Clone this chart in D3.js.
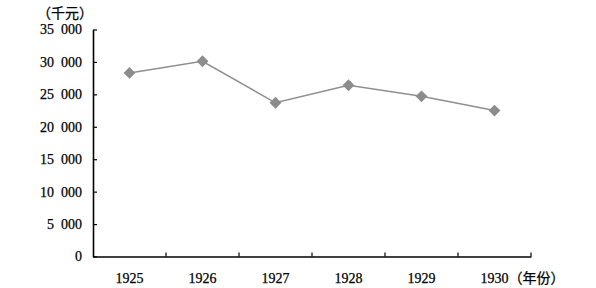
<!DOCTYPE html>
<html>
<head>
<meta charset="utf-8">
<script src="https://cdn.jsdelivr.net/npm/d3@7"></script>
<style>
  body { margin: 0; background: #fff; }
  svg { display: block; }
  text { font-family: "Liberation Serif", "Times New Roman", "Noto Sans CJK SC", serif; fill: #000; stroke: #000; stroke-width: 0.25px; }
</style>
</head>
<body>
<svg id="chart"></svg>
<script>
// data
var years = ["1925", "1926", "1927", "1928", "1929", "1930"];
var values = [28300, 30100, 23700, 26400, 24700, 22500];
var yTicks = [0, 5000, 10000, 15000, 20000, 25000, 30000, 35000];
var yUnit = "（千元）";
var xUnit = "（年份）";

var width = 596, height = 288;
var margin = {top: 29.5, right: 65, bottom: 31.5, left: 93};

var svg = d3.select("#chart")
	.attr("width", width)
	.attr("height", height);

var x = d3.scaleBand()
	.domain(years)
	.range([margin.left, width - margin.right])
	.padding(0);

var y = d3.scaleLinear()
	.domain([0, 35000])
	.range([height - margin.bottom, margin.top]);

// numbers like "35 000"
function fmt(v){
	return v === 0 ? "0" : d3.format(",")(v).replace(",", "\u2002");
}

// y axis, ticks pointing inward
var yAxis = svg.append("g")
	.attr("transform", "translate(" + margin.left + ",0)")
	.call(d3.axisLeft(y).tickValues(yTicks).tickFormat(fmt)
		.tickSizeInner(-4).tickSizeOuter(0).tickPadding(11));
yAxis.select(".domain").attr("stroke", "#000").attr("stroke-width", 1.6);
yAxis.selectAll(".tick line").attr("stroke", "#000").attr("stroke-width", 1.2);
yAxis.selectAll(".tick text").style("font-size", "14px");

// x axis, labels only; tick marks drawn at the band edges
var xAxis = svg.append("g")
	.attr("transform", "translate(0," + y(0) + ")")
	.call(d3.axisBottom(x).tickSize(0).tickPadding(17));
xAxis.select(".domain").attr("stroke", "#000").attr("stroke-width", 1.6);
xAxis.selectAll(".tick text").style("font-size", "14px");

xAxis.selectAll(".edge")
	.data(years)
	.enter().append("line")
	.attr("class", "edge")
	.attr("x1", function(d){ return x(d) + x.bandwidth(); })
	.attr("x2", function(d){ return x(d) + x.bandwidth(); })
	.attr("y1", 0)
	.attr("y2", -4)
	.attr("stroke", "#000")
	.attr("stroke-width", 1.2);

// unit labels
svg.append("text")
	.attr("x", 65)
	.attr("y", 13)
	.attr("text-anchor", "middle")
	.attr("dy", "0.35em")
	.style("font-size", "14px")
	.text(yUnit);

var last = xAxis.selectAll(".tick text").filter(function(d){ return d === years[years.length - 1]; });
var lastW = last.node().getComputedTextLength();
svg.append("text")
	.attr("x", x(years[years.length - 1]) + x.bandwidth() / 2 + lastW / 2)
	.attr("y", y(0) + 17)
	.attr("dy", "0.71em")
	.style("font-size", "14px")
	.text(xUnit);

// series
var pts = years.map(function(d, i){ return {year: d, value: values[i]}; });

var line = d3.line()
	.x(function(d){ return x(d.year) + x.bandwidth() / 2; })
	.y(function(d){ return y(d.value); });

svg.append("path")
	.datum(pts)
	.attr("fill", "none")
	.attr("stroke", "#8f8f8f")
	.attr("stroke-width", 1.5)
	.attr("d", line);

svg.selectAll(".mark")
	.data(pts)
	.enter().append("path")
	.attr("class", "mark")
	.attr("d", d3.symbol().type(d3.symbolSquare).size(70))
	.attr("transform", function(d){
		return "translate(" + (x(d.year) + x.bandwidth() / 2) + "," + y(d.value) + ") rotate(45)";
	})
	.attr("fill", "#8c8c8c");
</script>
</body>
</html>
